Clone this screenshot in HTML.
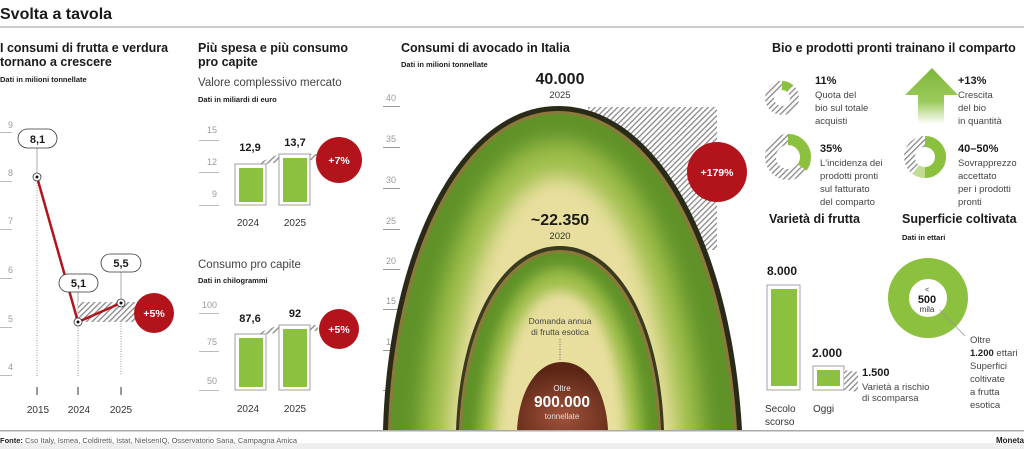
<!DOCTYPE html>
<html><head><meta charset="utf-8"><style>
html,body{margin:0;padding:0;background:#fff;width:1024px;height:449px;overflow:hidden;}
svg{display:block;font-family:"Liberation Sans",sans-serif;}
.b{font-weight:bold;fill:#1a1a1a}
.t{fill:#999;font-size:9px}
.r{fill:#333}
</style></head><body>
<svg width="1024" height="449" viewBox="0 0 1024 449" overflow="hidden">
<defs>
<pattern id="h" width="4" height="4" patternUnits="userSpaceOnUse" patternTransform="rotate(45)">
<rect width="4" height="4" fill="#fff"/><rect width="1.3" height="4" fill="#888"/></pattern>
<radialGradient id="gp" cx="0.5" cy="0.8" r="0.7">
<stop offset="0" stop-color="#a0523a"/><stop offset="1" stop-color="#5a2515"/></radialGradient>
<linearGradient id="ar" x1="0" y1="0" x2="0" y2="1"><stop offset="0" stop-color="#7db63a"/><stop offset="0.6" stop-color="#9ccb5c"/><stop offset="1" stop-color="#fff"/></linearGradient>
<clipPath id="cl"><rect x="0" y="0" width="1024" height="430"/></clipPath>
<filter id="bl" x="-20%" y="-20%" width="140%" height="140%"><feGaussianBlur stdDeviation="10"/></filter>
<filter id="bl2" x="-20%" y="-20%" width="140%" height="140%"><feGaussianBlur stdDeviation="6"/></filter>
<path id="big" d="M391 430 C396 257,465 114,558 114 C654 114,724 257,734 430 Z"/>
<path id="sm" d="M462 430 C466 328,506 253,560 253 C614 253,654 328,658 430 Z"/>
<clipPath id="cb"><use href="#big"/></clipPath>
<clipPath id="cs"><use href="#sm"/></clipPath>
</defs>
<rect x="0" y="443" width="1024" height="6" fill="#eee"/>
<text x="0" y="19" class="b" font-size="16">Svolta a tavola</text>
<rect x="0" y="26.5" width="1024" height="1" fill="#999"/>
<text x="0" y="443" font-size="7.5" fill="#555"><tspan font-weight="bold" fill="#222">Fonte:</tspan> Cso Italy, Ismea, Coldiretti, Istat, NielsenIQ, Osservatorio Sana, Campagna Amica</text>
<text x="1024" y="443" font-size="8" class="b" text-anchor="end">Moneta</text>

<!-- left chart -->
<text x="0" y="52" class="b" font-size="12.5">I consumi di frutta e verdura</text>
<text x="0" y="66" class="b" font-size="12.5">tornano a crescere</text>
<text x="0" y="82" class="b" font-size="7.5">Dati in milioni tonnellate</text>
<g class="t" font-size="7.5">
<text x="8" y="128">9</text><text x="8" y="176">8</text><text x="8" y="224">7</text><text x="8" y="273">6</text><text x="8" y="322">5</text><text x="8" y="370">4</text></g>
<g fill="#bbb"><rect x="0" y="132" width="12" height="1"/><rect x="0" y="181" width="12" height="1"/><rect x="0" y="229" width="12" height="1"/><rect x="0" y="278" width="12" height="1"/><rect x="0" y="327" width="12" height="1"/><rect x="0" y="375" width="12" height="1"/></g>
<g stroke="#777" stroke-dasharray="1,1.5" stroke-width="0.8"><line x1="37" y1="180" x2="37" y2="376"/><line x1="78" y1="325" x2="78" y2="376"/><line x1="121" y1="306" x2="121" y2="376"/></g>
<g stroke="#999" stroke-width="0.8"><line x1="37" y1="148" x2="37" y2="175"/><line x1="78" y1="292" x2="78" y2="318"/><line x1="121" y1="272" x2="121" y2="300"/></g>
<polygon points="78,302 135,302 135,322 78,322" fill="url(#h)"/>
<polyline points="37,177 78,322 121,303" fill="none" stroke="#b3141c" stroke-width="2.5"/>
<g fill="#fff" stroke="#333" stroke-width="0.8"><circle cx="37" cy="177" r="4"/><circle cx="78" cy="322" r="4"/><circle cx="121" cy="303" r="4"/></g>
<g fill="#111"><circle cx="37" cy="177" r="1.5"/><circle cx="78" cy="322" r="1.5"/><circle cx="121" cy="303" r="1.5"/></g>
<g fill="#fff" stroke="#333" stroke-width="0.8"><rect x="18" y="129" width="39" height="19" rx="9.5"/><rect x="59" y="274" width="39" height="18" rx="9"/><rect x="101" y="254" width="40" height="18" rx="9"/></g>
<g class="b" font-size="11" text-anchor="middle"><text x="37.5" y="143">8,1</text><text x="78.5" y="287">5,1</text><text x="121" y="267">5,5</text></g>
<circle cx="154" cy="313" r="20" fill="#b3141c"/>
<text x="154" y="317" font-size="10.5" font-weight="bold" fill="#fff" text-anchor="middle">+5%</text>
<g fill="#333"><rect x="36.5" y="387" width="1" height="8"/><rect x="77.5" y="387" width="1" height="8"/><rect x="120.5" y="387" width="1" height="8"/></g>
<g font-size="10" class="r" text-anchor="middle"><text x="38" y="413">2015</text><text x="79" y="413">2024</text><text x="121" y="413">2025</text></g>

<!-- middle -->
<text x="198" y="52" class="b" font-size="12.5">Più spesa e più consumo</text>
<text x="198" y="66" class="b" font-size="12.5">pro capite</text>
<text x="198" y="86" font-size="11.5" fill="#444">Valore complessivo mercato</text>
<text x="198" y="102" class="b" font-size="7.5">Dati in miliardi di euro</text>
<g class="t" font-size="7.5" text-anchor="end"><text x="217" y="133">15</text><text x="217" y="165">12</text><text x="217" y="197">9</text>
<text x="217" y="308">100</text><text x="217" y="345">75</text><text x="217" y="384">50</text></g>
<g fill="#bbb"><rect x="199" y="140" width="20" height="1"/><rect x="199" y="172" width="20" height="1"/><rect x="199" y="205" width="20" height="1"/>
<rect x="199" y="313" width="20" height="1"/><rect x="199" y="351" width="20" height="1"/><rect x="199" y="390" width="20" height="1"/></g>
<polygon points="256,164 279,154 318,154 318,160 296,160 266,164" fill="url(#h)"/>
<polygon points="256,334 279,325 318,325 318,331 296,331 266,334" fill="url(#h)"/>
<g fill="#fff" stroke="#888" stroke-width="0.8"><rect x="235" y="164" width="31" height="41"/><rect x="279" y="154" width="31" height="51"/><rect x="235" y="334" width="31" height="56"/><rect x="279" y="325" width="31" height="65"/></g>
<g fill="#8cc13f"><rect x="239" y="168" width="24" height="34"/><rect x="283" y="158" width="24" height="44"/><rect x="239" y="338" width="24" height="49"/><rect x="283" y="329" width="24" height="58"/></g>
<g class="b" font-size="11" text-anchor="middle"><text x="250" y="151">12,9</text><text x="295" y="146">13,7</text><text x="250" y="322">87,6</text><text x="295" y="317">92</text></g>
<circle cx="339" cy="160" r="23" fill="#b3141c"/><text x="339" y="164" font-size="10.5" font-weight="bold" fill="#fff" text-anchor="middle">+7%</text>
<circle cx="339" cy="329" r="20" fill="#b3141c"/><text x="339" y="333" font-size="10.5" font-weight="bold" fill="#fff" text-anchor="middle">+5%</text>
<g font-size="10" class="r" text-anchor="middle"><text x="248" y="226">2024</text><text x="295" y="226">2025</text><text x="248" y="412">2024</text><text x="295" y="412">2025</text></g>
<text x="198" y="268" font-size="11.5" fill="#444">Consumo pro capite</text>
<text x="198" y="283" class="b" font-size="7.5">Dati in chilogrammi</text>

<!-- avocado -->
<text x="401" y="52" class="b" font-size="12.5">Consumi di avocado in Italia</text>
<text x="401" y="67" class="b" font-size="7.5">Dati in milioni tonnellate</text>
<g class="t" font-size="7.5"><text x="386" y="101">40</text><text x="386" y="142">35</text><text x="386" y="183">30</text><text x="386" y="224">25</text><text x="386" y="264">20</text><text x="386" y="304">15</text><text x="386" y="345">10</text><text x="386" y="385">5</text></g>
<g fill="#999"><rect x="383" y="106" width="17" height="1"/><rect x="383" y="147" width="17" height="1"/><rect x="383" y="188" width="17" height="1"/><rect x="383" y="229" width="17" height="1"/><rect x="383" y="269" width="17" height="1"/><rect x="383" y="309" width="17" height="1"/><rect x="383" y="350" width="17" height="1"/><rect x="383" y="390" width="17" height="1"/></g>
<rect x="588" y="107" width="129" height="143" fill="url(#h)"/>
<g clip-path="url(#cl)">
<path d="M383 430 C388 250,460 106,558 106 C660 106,732 250,742 430 Z" fill="#2a2a18"/>
<path d="M388 430 C393 254,463 111,558 111 C656 111,727 254,737 430 Z" fill="#8b7a3a"/>
<g clip-path="url(#cb)">
<use href="#big" fill="#5f9228"/>
<path d="M420 449 C424 285,478 140,558 140 C640 140,695 285,705 449 Z" fill="#9dbd48" filter="url(#bl)"/>
<path d="M448 449 C452 305,498 175,558 175 C622 175,668 305,678 449 Z" fill="#e8df9e" filter="url(#bl)"/>
</g>
<path d="M456 430 C460 322,502 246,560 246 C618 246,660 322,664 430 Z" fill="#3a3a20"/>
<path d="M459 430 C463 325,504 250,560 250 C616 250,657 325,661 430 Z" fill="#8b7a3a"/>
<g clip-path="url(#cs)">
<use href="#sm" fill="#5f9228"/>
<path d="M478 445 C482 340,516 268,560 268 C606 268,640 340,644 445 Z" fill="#9dbd48" filter="url(#bl2)"/>
<path d="M494 445 C498 355,524 290,560 290 C598 290,624 355,628 445 Z" fill="#e8df9e" filter="url(#bl2)"/>
</g>
<path d="M517 430 C519 392,536 362,562 362 C589 362,606 392,608 430 Z" fill="url(#gp)"/>
</g>
<rect x="0" y="430" width="1024" height="1.5" fill="#aaa"/>
<circle cx="717" cy="172" r="30" fill="#b3141c"/><text x="717" y="176" font-size="10.5" font-weight="bold" fill="#fff" text-anchor="middle">+179%</text>
<text x="560" y="84" class="b" font-size="16" text-anchor="middle">40.000</text>
<text x="560" y="98" font-size="9.5" fill="#333" text-anchor="middle">2025</text>
<text x="560" y="225" class="b" font-size="16" text-anchor="middle">~22.350</text>
<text x="560" y="239" font-size="9.5" fill="#333" text-anchor="middle">2020</text>
<text x="560" y="324" font-size="8.5" fill="#444" text-anchor="middle">Domanda annua</text>
<text x="560" y="335" font-size="8.5" fill="#444" text-anchor="middle">di frutta esotica</text>
<line x1="560" y1="339" x2="560" y2="361" stroke="#555" stroke-dasharray="1,1.5" stroke-width="0.8"/>
<text x="562" y="391" font-size="8" fill="#eee" text-anchor="middle">Oltre</text>
<text x="562" y="407" font-size="15.5" font-weight="bold" fill="#fff" text-anchor="middle">900.000</text>
<text x="562" y="419" font-size="8" fill="#ddd" text-anchor="middle">tonnellate</text>

<!-- right -->
<text x="772" y="52" class="b" font-size="12.5">Bio e prodotti pronti trainano il comparto</text>
<circle cx="782" cy="98" r="12.5" fill="none" stroke="url(#h)" stroke-width="9"/>
<circle cx="782" cy="98" r="12.5" fill="none" stroke="#8cc13f" stroke-width="9" stroke-dasharray="8.6 100" transform="rotate(-90 782 98)"/>
<circle cx="788" cy="157" r="17.5" fill="none" stroke="url(#h)" stroke-width="11"/>
<circle cx="788" cy="157" r="17.5" fill="none" stroke="#8cc13f" stroke-width="11" stroke-dasharray="38.5 200" transform="rotate(-90 788 157)"/>
<circle cx="925" cy="157" r="15.5" fill="none" stroke="url(#h)" stroke-width="11"/>
<circle cx="925" cy="157" r="15.5" fill="none" stroke="#c3dc95" stroke-width="11" stroke-dasharray="58.5 200" transform="rotate(-90 925 157)"/>
<circle cx="925" cy="157" r="15.5" fill="none" stroke="#8cc13f" stroke-width="11" stroke-dasharray="48.7 200" transform="rotate(-90 925 157)"/>
<polygon points="932,68 958,95 944,95 944,124 918,124 918,95 905,95" fill="url(#ar)"/>
<g class="b" font-size="11"><text x="815" y="84">11%</text><text x="820" y="152">35%</text><text x="958" y="84">+13%</text><text x="958" y="152">40–50%</text></g>
<g font-size="9.5" fill="#444">
<text x="815" y="98">Quota del</text><text x="815" y="111">bio sul totale</text><text x="815" y="124">acquisti</text>
<text x="820" y="166">L'incidenza dei</text><text x="820" y="179">prodotti pronti</text><text x="820" y="192">sul fatturato</text><text x="820" y="205">del comparto</text>
<text x="958" y="98">Crescita</text><text x="958" y="111">del bio</text><text x="958" y="124">in quantità</text>
<text x="958" y="166">Sovrapprezzo</text><text x="958" y="179">accettato</text><text x="958" y="192">per i prodotti</text><text x="958" y="205">pronti</text>
</g>
<text x="769" y="223" class="b" font-size="12.5">Varietà di frutta</text>
<text x="902" y="223" class="b" font-size="12.5">Superficie coltivata</text>
<text x="902" y="240" class="b" font-size="7.5">Dati in ettari</text>
<text x="767" y="275" class="b" font-size="12">8.000</text>
<rect x="767" y="285" width="33" height="105" fill="#fff" stroke="#8a8aa8" stroke-width="0.8"/>
<rect x="771" y="289" width="26" height="97" fill="#8cc13f"/>
<text x="812" y="357" class="b" font-size="12">2.000</text>
<rect x="813" y="366" width="31" height="24" fill="#fff" stroke="#888" stroke-width="0.8"/>
<rect x="817" y="370" width="23" height="16" fill="#8cc13f"/>
<polygon points="844,370 858,372 858,392 844,390" fill="url(#h)"/>
<text x="862" y="376" class="b" font-size="11">1.500</text>
<text x="862" y="390" font-size="9.5" fill="#444">Varietà a rischio</text>
<text x="862" y="401" font-size="9.5" fill="#444">di scomparsa</text>
<g font-size="10" fill="#333"><text x="765" y="412">Secolo</text><text x="765" y="425">scorso</text><text x="813" y="412">Oggi</text></g>
<circle cx="928" cy="298" r="29.5" fill="none" stroke="#8cc13f" stroke-width="21"/>
<line x1="940" y1="310" x2="965" y2="336" stroke="#999" stroke-width="0.8"/>
<text x="927" y="292" font-size="7" fill="#333" text-anchor="middle">&lt;</text>
<text x="927" y="303" class="b" font-size="11" text-anchor="middle">500</text>
<text x="927" y="312" font-size="8" fill="#333" text-anchor="middle">mila</text>
<g font-size="9.5" fill="#444"><text x="970" y="343">Oltre</text><text x="970" y="356"><tspan font-weight="bold" fill="#222">1.200</tspan> ettari</text><text x="970" y="369">Superfici</text><text x="970" y="382">coltivate</text><text x="970" y="395">a frutta</text><text x="970" y="408">esotica</text></g>
</svg>
</body></html>
